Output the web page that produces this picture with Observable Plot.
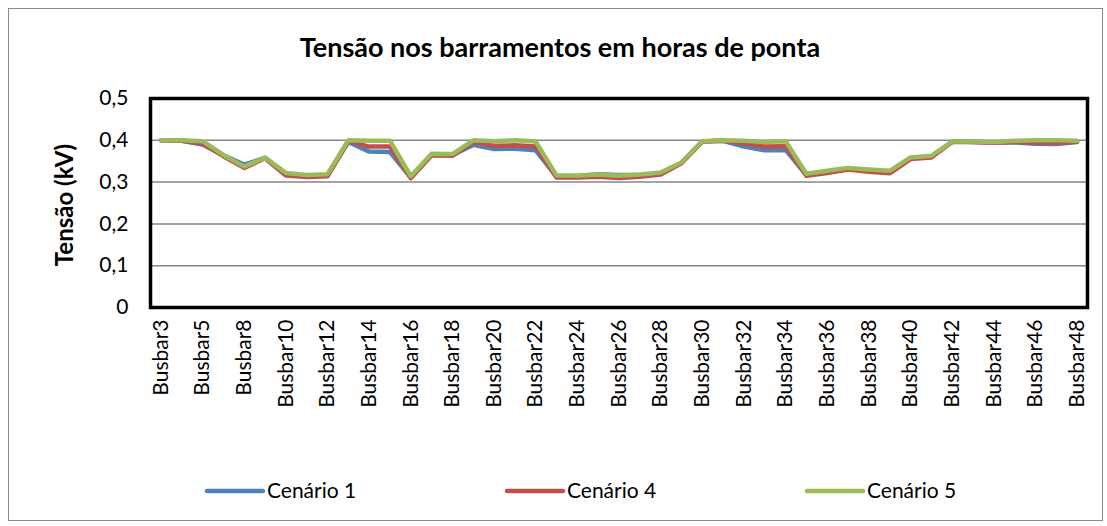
<!DOCTYPE html>
<html><head><meta charset="utf-8">
<script src="https://cdn.jsdelivr.net/npm/d3@7"></script>
<script src="https://cdn.jsdelivr.net/npm/@observablehq/plot@0.6"></script>
<style>body{margin:0;background:#fff}</style>
</head><body><div id="chart"></div>
<script>
const categories = ["Busbar3","Busbar4","Busbar5","Busbar6","Busbar8","Busbar9","Busbar10","Busbar11","Busbar12","Busbar13","Busbar14","Busbar15","Busbar16","Busbar17","Busbar18","Busbar19","Busbar20","Busbar21","Busbar22","Busbar23","Busbar24","Busbar25","Busbar26","Busbar27","Busbar28","Busbar29","Busbar30","Busbar31","Busbar32","Busbar33","Busbar34","Busbar35","Busbar36","Busbar37","Busbar38","Busbar39","Busbar40","Busbar41","Busbar42","Busbar43","Busbar44","Busbar45","Busbar46","Busbar47","Busbar48"];
const cenario1 = [0.400,0.399,0.390,0.364,0.342,0.358,0.318,0.314,0.316,0.396,0.373,0.372,0.311,0.365,0.365,0.389,0.379,0.380,0.376,0.313,0.314,0.319,0.317,0.317,0.320,0.346,0.397,0.399,0.385,0.376,0.377,0.317,0.324,0.332,0.327,0.323,0.357,0.361,0.397,0.396,0.395,0.395,0.392,0.391,0.396];
const cenario4 = [0.400,0.399,0.392,0.362,0.334,0.357,0.316,0.312,0.314,0.398,0.385,0.385,0.309,0.364,0.363,0.396,0.387,0.388,0.385,0.311,0.311,0.313,0.310,0.313,0.318,0.345,0.397,0.399,0.392,0.385,0.386,0.315,0.322,0.330,0.325,0.321,0.355,0.359,0.396,0.396,0.394,0.396,0.394,0.393,0.397];
const cenario5 = [0.400,0.400,0.398,0.365,0.337,0.359,0.322,0.317,0.319,0.400,0.399,0.399,0.314,0.368,0.367,0.400,0.398,0.400,0.397,0.316,0.316,0.318,0.315,0.318,0.323,0.347,0.398,0.400,0.399,0.396,0.398,0.320,0.327,0.334,0.330,0.327,0.359,0.363,0.397,0.397,0.396,0.399,0.400,0.400,0.399];
const seriesNames = ["Cenário 1","Cenário 4","Cenário 5"];
const seriesColors = ["#4F81BD","#C0504D","#9BBB59"];
const yTicks = [0,0.1,0.2,0.3,0.4,0.5];
const gridTicks = [0.1,0.2,0.3,0.4];
const xTickLabels = categories.filter((d,i)=>i%2===0);
const titleText = "Tensão nos barramentos em horas de ponta";
const yLabelText = "Tensão (kV)";

const rows = [];
[cenario1, cenario4, cenario5].forEach((vals, s) =>
  vals.forEach((v, i) => rows.push({cat: categories[i], v, serie: seriesNames[s]})));

const font = "Lato, 'Open Sans', sans-serif";
const W = 1107, H = 526;
const plot = Plot.plot({
  width: W, height: H,
  marginLeft: 150, marginRight: 20, marginTop: 98, marginBottom: 219,
  style: {fontFamily: font, fontSize: "20px", color: "#000", background: "#fff", overflow: "visible"},
  x: {type: "point", domain: categories, padding: 0.5, axis: null},
  y: {domain: [0, 0.5], axis: null},
  color: {domain: seriesNames, range: seriesColors},
  marks: [
    Plot.gridY(gridTicks, {stroke: "#868686", strokeOpacity: 1, strokeWidth: 1.5}),
    Plot.axisY(yTicks, {tickSize: 0, tickPadding: 22, fontSize: 21, label: null,
      tickFormat: d => d === 0 ? "0" : d3.format(".1f")(d).replace(".", ",")}),
    Plot.axisX(xTickLabels, {tickSize: 0, tickPadding: 12, tickRotate: -90, fontSize: 21, label: null}),
    Plot.line(rows, {x: "cat", y: "v", z: "serie", stroke: "serie", strokeWidth: 4.5, strokeLinejoin: "round", strokeLinecap: "round"}),
    Plot.frame({stroke: "#000", strokeWidth: 3.5})
  ]
});
document.getElementById("chart").appendChild(plot);

const svg = d3.select(plot);
svg.insert("rect", ":first-child")
  .attr("x", 8.5).attr("y", 8.5).attr("width", W - 13).attr("height", H - 14)
  .attr("fill", "#fff").attr("stroke", "#898989").attr("stroke-width", 1);
svg.append("text").text(titleText)
  .attr("x", 560).attr("y", 57).attr("text-anchor", "middle")
  .attr("font-family", font).attr("font-weight", "bold").attr("font-size", 27).attr("fill", "#000");
svg.append("text").text(yLabelText)
  .attr("transform", "translate(73,205) rotate(-90)").attr("text-anchor", "middle")
  .attr("font-family", font).attr("font-weight", "bold").attr("font-size", 24).attr("fill", "#000");
const legX = [207, 507, 807];
const leg = svg.append("g");
seriesNames.forEach((name, i) => {
  leg.append("line").attr("x1", legX[i]).attr("x2", legX[i] + 56).attr("y1", 491).attr("y2", 491)
    .attr("stroke", seriesColors[i]).attr("stroke-width", 4.5).attr("stroke-linecap", "round");
  leg.append("text").text(name).attr("x", legX[i] + 60).attr("y", 491).attr("dy", "0.35em")
    .attr("text-anchor", "start")
    .attr("font-family", font).attr("font-size", 21).attr("fill", "#000");
});
</script>
</body></html>
